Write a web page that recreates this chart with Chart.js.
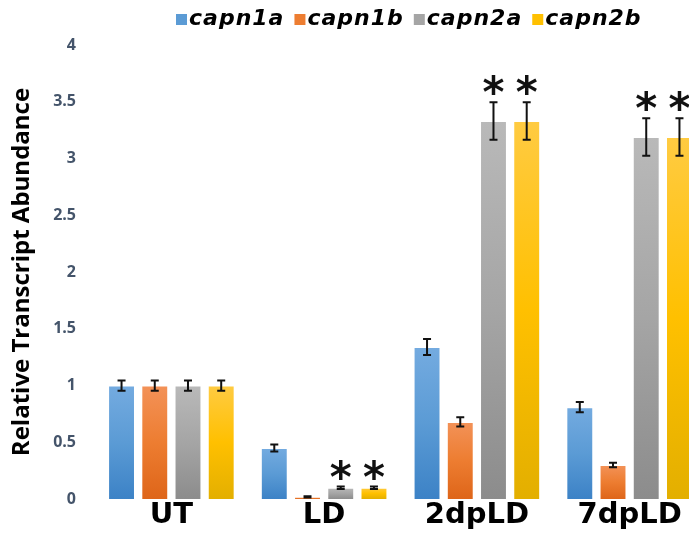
<!DOCTYPE html>
<html>
<head>
<meta charset="utf-8">
<script src="https://cdn.jsdelivr.net/npm/chart.js@4.4.1/dist/chart.umd.min.js"></script>
<style>
  html, body { margin: 0; padding: 0; background: #fff; overflow: hidden; }
  #wrap { width: 720px; height: 540px; }
</style>
</head>
<body>
<div id="wrap"><canvas id="abundanceChart" width="720" height="540"></canvas></div>
<script>
"use strict"

// groups on the x axis
const categories = ['UT', 'LD', '2dpLD', '7dpLD']

// mean relative abundance per gene
const capn1a = [1.00, 0.45, 1.34, 0.81]
const capn1b = [1.00, 0.02, 0.68, 0.30]
const capn2a = [1.00, 0.10, 3.33, 3.19]
const capn2b = [1.00, 0.10, 3.33, 3.19]

// error (+/-) per gene
const capn1aErr = [0.045, 0.03, 0.07, 0.045]
const capn1bErr = [0.045, 0.005, 0.04, 0.02]
const capn2aErr = [0.045, 0.01, 0.165, 0.165]
const capn2bErr = [0.045, 0.01, 0.165, 0.165]

// significance asterisks
const capn1aSig = [false, false, false, false]
const capn1bSig = [false, false, false, false]
const capn2aSig = [false, true, true, true]
const capn2bSig = [false, true, true, true]

const yTicks = [0, 0.5, 1, 1.5, 2, 2.5, 3, 3.5, 4]

// colours: [legend, top of bar, bottom of bar]
const palette = [
    ['#5b9bd5', '#74abe0', '#3c82c6'],
    ['#ed7d31', '#f39258', '#de6519'],
    ['#a5a5a5', '#b9b9b9', '#8c8c8c'],
    ['#ffc000', '#ffcb42', '#e3af00']
]

function barFill(idx) {
    return function (ctx) {
        const chart = ctx.chart
        const c = palette[idx]
        if (!chart.chartArea || ctx.type !== 'data') return c[0]
        const y = chart.scales.y
        const top = y.getPixelForValue(ctx.raw)
        const base = y.getPixelForValue(0)
        if (!isFinite(top) || base - top < 1) return c[0]
        const g = chart.ctx.createLinearGradient(0, top, 0, base)
        g.addColorStop(0, c[1])
        g.addColorStop(0.5, c[0])
        g.addColorStop(1, c[2])
        return g
    }
}

// error bars + asterisks on top of the bars
const errorBars = {
    id: 'errorBars',
    afterDatasetsDraw(chart) {
        const ctx = chart.ctx
        const y = chart.scales.y
        ctx.save()
        chart.data.datasets.forEach((ds, i) => {
            const meta = chart.getDatasetMeta(i)
            meta.data.forEach((bar, j) => {
                const v = ds.data[j]
                const e = ds.err[j]
                const hi = y.getPixelForValue(v + e)
                const lo = y.getPixelForValue(v - e)
                ctx.strokeStyle = '#111'
                ctx.lineWidth = 2
                ctx.beginPath()
                ctx.moveTo(bar.x, hi); ctx.lineTo(bar.x, lo)
                ctx.moveTo(bar.x - 4, hi); ctx.lineTo(bar.x + 4, hi)
                ctx.moveTo(bar.x - 4, lo); ctx.lineTo(bar.x + 4, lo)
                ctx.stroke()
                if (ds.sig[j]) {
                    ctx.fillStyle = '#111'
                    ctx.font = 'bold 42px "DejaVu Sans"'
                    ctx.textAlign = 'center'
                    ctx.textBaseline = 'alphabetic'
                    ctx.fillText('*', bar.x, hi + 5)
                }
            })
        })
        ctx.restore()
    }
}

// legend drawn by hand so it can sit off-centre like the original
const topLegend = {
    id: 'topLegend',
    afterDraw(chart) {
        const ctx = chart.ctx
        ctx.save()
        ctx.font = 'italic bold 22px "DejaVu Sans"'
        ctx.letterSpacing = '1px'
        ctx.textBaseline = 'middle'
        ctx.textAlign = 'left'
        let x = 176
        const yMid = 19
        chart.data.datasets.forEach((ds, i) => {
            ctx.fillStyle = palette[i][0]
            ctx.fillRect(x, yMid - 5, 11, 11)
            x += 13
            ctx.fillStyle = '#000'
            ctx.fillText(ds.label, x, yMid)
            x += ctx.measureText(ds.label).width + 10
        })
        ctx.restore()
    }
}

const ctx = document.getElementById('abundanceChart')

const series = [capn1a, capn1b, capn2a, capn2b]
const errs = [capn1aErr, capn1bErr, capn2aErr, capn2bErr]
const sigs = [capn1aSig, capn1bSig, capn2aSig, capn2bSig]
const names = ['capn1a', 'capn1b', 'capn2a', 'capn2b']

const myChart = new Chart(ctx, {
    type: 'bar',
    data: {
        labels: categories,
        datasets: series.map((d, i) => ({
            label: names[i],
            data: d,
            err: errs[i],
            sig: sigs[i],
            backgroundColor: barFill(i),
            borderColor: 'rgba(255,255,255,0.35)',
            borderWidth: 1,
            categoryPercentage: 0.87,
            barPercentage: 0.81
        }))
    },
    plugins: [errorBars, topLegend],
    options: {
        responsive: false,
        animation: false,
        layout: {
            padding: { top: 45, right: 14, bottom: 9, left: 0 }
        },
        plugins: {
            legend: { display: false },
            tooltip: { enabled: false }
        },
        scales: {
            x: {
                grid: { display: false, drawTicks: false },
                border: { display: false },
                ticks: {
                    color: '#000',
                    padding: 0,
                    font: { family: '"DejaVu Sans"', size: 29, weight: 'bold', lineHeight: 1.1 }
                }
            },
            y: {
                min: 0,
                max: 4,
                afterFit(s) { s.width = 95 },
                afterBuildTicks(s) { s.ticks = yTicks.map(v => ({ value: v })) },
                grid: { display: false, drawTicks: false },
                border: { display: false },
                ticks: {
                    color: '#44546a',
                    padding: 19,
                    callback: v => String(v),
                    font: { family: '"Open Sans"', size: 16, weight: 'bold' }
                },
                title: {
                    display: true,
                    text: 'Relative Transcript Abundance',
                    color: '#000',
                    padding: { top: 8, bottom: 0 },
                    font: { family: '"Open Sans"', size: 24, weight: 'bold' }
                }
            }
        }
    }
})
</script>
</body>
</html>
